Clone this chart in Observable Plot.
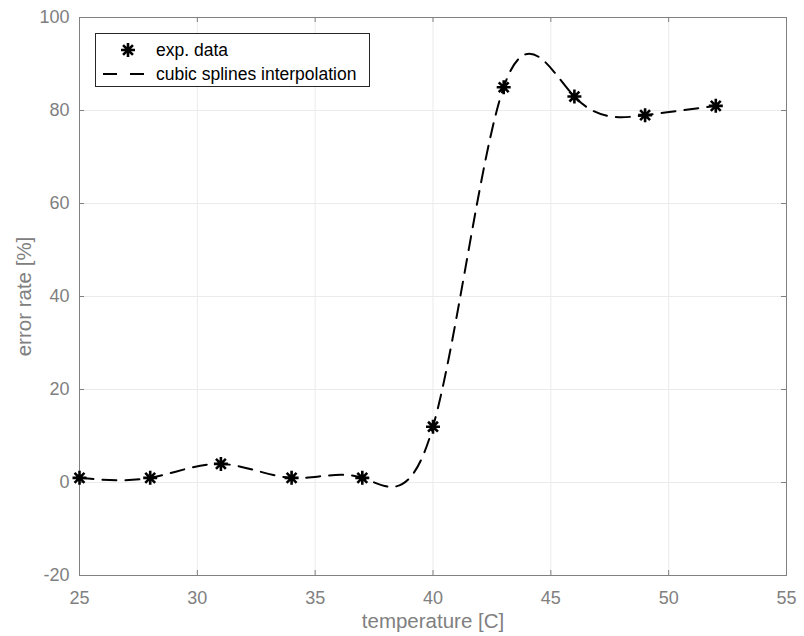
<!DOCTYPE html>
<html>
<head>
<meta charset="utf-8">
<script src="https://cdn.jsdelivr.net/npm/d3@7"></script>
<script src="https://cdn.jsdelivr.net/npm/@observablehq/plot@0.6"></script>
<style>
  html, body { margin: 0; padding: 0; background: #fff; }
  #wrap { position: relative; width: 804px; height: 636px; font-family: "Liberation Sans", Arial, Helvetica, sans-serif; }
  #legend { position: absolute; left: 95px; top: 33px; width: 275px; height: 54px; border: 1px solid #262626; background: #fff; box-sizing: border-box; }
  #legend svg { position: absolute; left: 0; top: 0; }
</style>
</head>
<body>
<div id="wrap"></div>
<script>
const temps = [25, 28, 31, 34, 37, 40, 43, 46, 49, 52];
const rates = [1, 1, 4, 1, 1, 12, 85, 83, 79, 81];
const xTicks = [25, 30, 35, 40, 45, 50, 55];
const yTicks = [-20, 0, 20, 40, 60, 80, 100];
const legendLabels = ["exp. data", "cubic splines interpolation"];
const xLabel = "temperature [C]";
const yLabel = "error rate [%]";

const data = temps.map((t, i) => ({t, r: rates[i]}));

const asterisk8 = {
  draw(ctx, size) {
    const r = Math.sqrt(size / Math.PI);
    const d = r * Math.SQRT1_2;
    ctx.moveTo(-r, 0); ctx.lineTo(r, 0);
    ctx.moveTo(0, -r); ctx.lineTo(0, r);
    ctx.moveTo(-d, -d); ctx.lineTo(d, d);
    ctx.moveTo(-d, d); ctx.lineTo(d, -d);
  }
};

const W = 804, H = 636;
const mL = 79, mR = 18, mT = 17, mB = 61;
const innerH = H - mT - mB;
const innerW = W - mL - mR;
const tk = 5;
const gray = "#808080";
const font = "Liberation Sans, Arial, Helvetica, sans-serif";

const chart = Plot.plot({
  width: W, height: H,
  marginLeft: mL, marginRight: mR, marginTop: mT, marginBottom: mB,
  style: {fontFamily: font, fontSize: "18px", color: gray, background: "#fff"},
  x: {domain: [25, 55], ticks: xTicks},
  y: {domain: [-20, 100], ticks: yTicks},
  marks: [
    Plot.ruleX(xTicks, {stroke: "#ebebeb", strokeWidth: 1}),
    Plot.ruleY(yTicks, {stroke: "#ebebeb", strokeWidth: 1}),
    Plot.ruleX(xTicks, {stroke: gray, insetTop: innerH - tk}),
    Plot.ruleX(xTicks, {stroke: gray, insetBottom: innerH - tk}),
    Plot.ruleY(yTicks, {stroke: gray, insetRight: innerW - tk}),
    Plot.ruleY(yTicks, {stroke: gray, insetLeft: innerW - tk}),
    Plot.frame({stroke: gray}),
    Plot.axisX({ticks: xTicks, tickSize: 0, tickPadding: 16, tickFormat: d => String(d), fill: gray, label: null}),
    Plot.axisY({ticks: yTicks, tickSize: 0, tickPadding: 10, tickFormat: d => String(d), fill: gray, label: null}),
    Plot.text([xLabel], {text: d => d, frameAnchor: "bottom", dy: 52, fontSize: 20.5, fill: gray}),
    Plot.text([yLabel], {text: d => d, frameAnchor: "left", textAnchor: "middle", dx: -55, rotate: -90, fontSize: 20.5, fill: gray}),
    Plot.line(data, {x: "t", y: "r", curve: "natural", stroke: "#000", strokeWidth: 2, strokeDasharray: "14,9"}),
    Plot.dot(data, {x: "t", y: "r", symbol: asterisk8, r: 7, stroke: "#000", strokeWidth: 2.6, fill: "none"})
  ]
});

const wrap = document.getElementById("wrap");
wrap.appendChild(chart);

// legend
const leg = document.createElement("div");
leg.id = "legend";
const ls = d3.create("svg").attr("width", 275).attr("height", 54);
const sym = d3.symbol(asterisk8, Math.PI * 49)();
ls.append("path").attr("d", sym).attr("transform", "translate(32,16)")
  .attr("stroke", "#000").attr("stroke-width", 2.6).attr("fill", "none");
ls.append("line").attr("x1", 7).attr("x2", 48).attr("y1", 40).attr("y2", 40)
  .attr("stroke", "#000").attr("stroke-width", 2).attr("stroke-dasharray", "14,13");
legendLabels.forEach((t, i) => {
  ls.append("text").attr("x", 60).attr("y", 16 + i * 24).attr("dy", "0.35em")
    .attr("font-size", "17.5px").attr("fill", "#000")
    .attr("font-family", font).text(t);
});
leg.appendChild(ls.node());
wrap.appendChild(leg);
</script>
</body>
</html>
